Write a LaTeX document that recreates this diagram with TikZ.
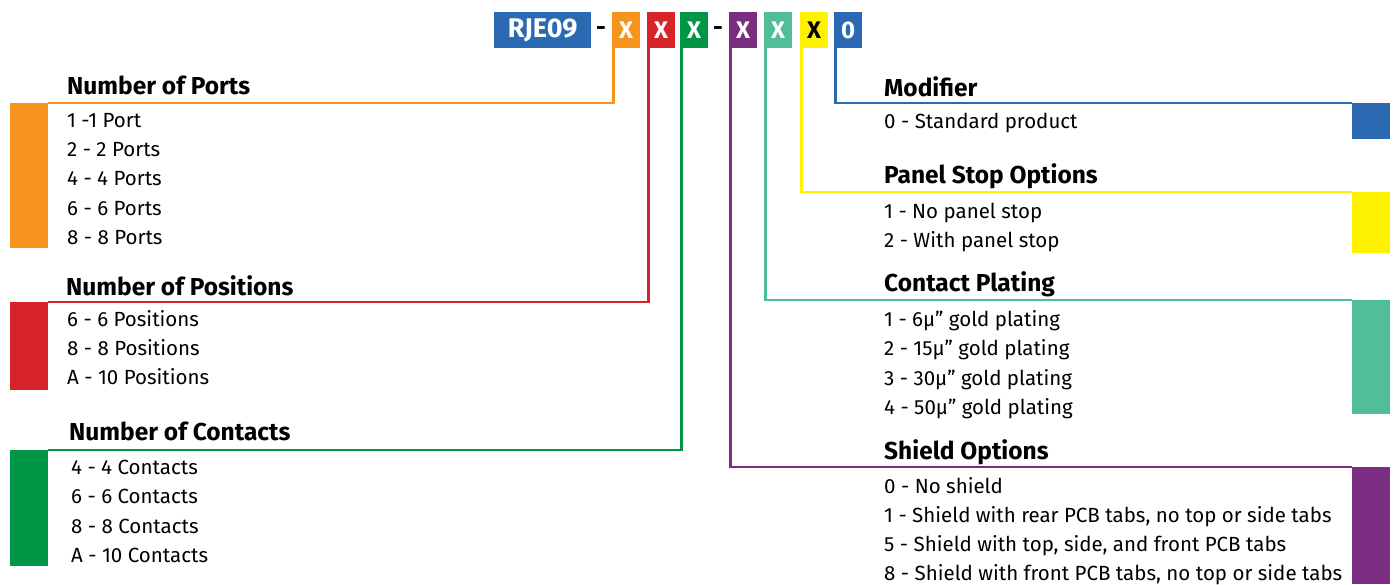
\documentclass[tikz,border=0pt]{standalone}
\usepackage{fontspec}
\setmainfont{Fira Sans}
\usepackage{tikz}

\definecolor{portorange}{RGB}{247,148,29}
\definecolor{posred}{RGB}{215,35,42}
\definecolor{contgreen}{RGB}{0,150,72}
\definecolor{shieldpurple}{RGB}{123,45,130}
\definecolor{platingteal}{RGB}{80,190,150}
\definecolor{stopyellow}{RGB}{255,242,0}
\definecolor{modblue}{RGB}{43,106,178}

\begin{document}
\begin{tikzpicture}[x=1pt, y=-1pt,
                codebox/.style={inner sep=0, minimum height=36, minimum width=28, anchor=north west, font=\fontsize{24}{24}\selectfont\bfseries, text=white},
                grouptitle/.style={anchor=base west, inner sep=0, font=\fontsize{24.5}{26}\selectfont\bfseries},
                option/.style={anchor=base west, inner sep=0, font=\fontsize{20.5}{24}\selectfont},
                sidebar/.style={inner sep=0, minimum width=38, anchor=north west},
                lead/.style={line width=2.2}
            ]
                \useasboundingbox (0,0) rectangle (1396,584);

                % Code en haut
                \node[codebox, fill=modblue, minimum width=97, font=\fontsize{27}{27}\selectfont\bfseries] (cbase) at (494,12) {RJE09};
                \node[font=\fontsize{24}{24}\selectfont\bfseries] (dash1) at (601,31) {-};
                \node[codebox, fill=portorange] (cport) at (612,12) {X};
                \node[codebox, fill=posred] (cpos) at (647,12) {X};
                \node[codebox, fill=contgreen] (ccont) at (680,12) {X};
                \node[font=\fontsize{24}{24}\selectfont\bfseries] (dash2) at (718,31) {-};
                \node[codebox, fill=shieldpurple] (cshield) at (729,12) {X};
                \node[codebox, fill=platingteal] (cplate) at (764,12) {X};
                \node[codebox, fill=stopyellow, text=black] (cstop) at (800,12) {X};
                \node[codebox, fill=modblue] (cmod) at (834,12) {0};

                % Barres de couleur - gauche
                \node[sidebar, fill=portorange, minimum height=145] (bport) at (10,103) {};
                \node[sidebar, fill=posred, minimum height=88] (bpos) at (10,302) {};
                \node[sidebar, fill=contgreen, minimum height=116] (bcont) at (10,450) {};

                % Barres de couleur - droite
                \node[sidebar, fill=modblue, minimum height=36] (bmod) at (1352,103) {};
                \node[sidebar, fill=stopyellow, minimum height=61] (bstop) at (1352,192) {};
                \node[sidebar, fill=platingteal, minimum height=114] (bplate) at (1352,300) {};
                \node[sidebar, fill=shieldpurple, minimum height=117] (bshield) at (1352,467) {};

                % Lignes de rappel
                \draw[lead, portorange] ([xshift=1.5]cport.south west) |- (bport.north east);
                \draw[lead, posred] ([xshift=1.5]cpos.south west) |- (bpos.north east);
                \draw[lead, contgreen] ([xshift=1.5]ccont.south west) |- (bcont.north east);
                \draw[lead, modblue] ([xshift=1.5]cmod.south west) |- (bmod.north west);
                \draw[lead, stopyellow] ([xshift=1.5]cstop.south west) |- (bstop.north west);
                \draw[lead, platingteal] ([xshift=1.5]cplate.south west) |- (bplate.north west);
                \draw[lead, shieldpurple] ([xshift=1.5]cshield.south west) |- (bshield.north west);

                % Number of Ports
                \node[grouptitle] (tport) at (67,94) {Number of Ports};
                \node[option] (p1) at (67,127) {1 -1 Port};
                \node[option] (p2) at (67,156) {2 - 2 Ports};
                \node[option] (p4) at (67,185) {4 - 4 Ports};
                \node[option] (p6) at (67,215) {6 - 6 Ports};
                \node[option] (p8) at (67,244) {8 - 8 Ports};

                % Number of Positions
                \node[grouptitle] (tpos) at (66,295) {Number of Positions};
                \node[option] (q6) at (67,326) {6 - 6 Positions};
                \node[option] (q8) at (67,355) {8 - 8 Positions};
                \node[option] (qa) at (67,384) {A - 10 Positions};

                % Number of Contacts
                \node[grouptitle] (tcont) at (69,440) {Number of Contacts};
                \node[option] (k4) at (71,474) {4 - 4 Contacts};
                \node[option] (k6) at (71,503) {6 - 6 Contacts};
                \node[option] (k8) at (71,533) {8 - 8 Contacts};
                \node[option] (ka) at (71,562) {A - 10 Contacts};

                % Modifier
                \node[grouptitle] (tmod) at (884,96) {Modifier};
                \node[option] (m0) at (884,128) {0 - Standard product};

                % Panel Stop Options
                \node[grouptitle] (tstop) at (884,183) {Panel Stop Options};
                \node[option] (s1) at (884,218) {1 - No panel stop};
                \node[option] (s2) at (884,247) {2 - With panel stop};

                % Contact Plating
                \node[grouptitle] (tplate) at (884,291) {Contact Plating};
                \node[option] (g1) at (884,326) {1 - 6µ” gold plating};
                \node[option] (g2) at (884,355) {2 - 15µ” gold plating};
                \node[option] (g3) at (884,385) {3 - 30µ” gold plating};
                \node[option] (g4) at (884,414) {4 - 50µ” gold plating};

                % Shield Options
                \node[grouptitle] (tshield) at (884,459) {Shield Options};
                \node[option] (h0) at (884,493) {0 - No shield};
                \node[option] (h1) at (884,522) {1 - Shield with rear PCB tabs, no top or side tabs};
                \node[option] (h5) at (884,551) {5 - Shield with top, side, and front PCB tabs};
                \node[option] (h8) at (884,580) {8 - Shield with front PCB tabs, no top or side tabs};
            \end{tikzpicture}
\end{document}
